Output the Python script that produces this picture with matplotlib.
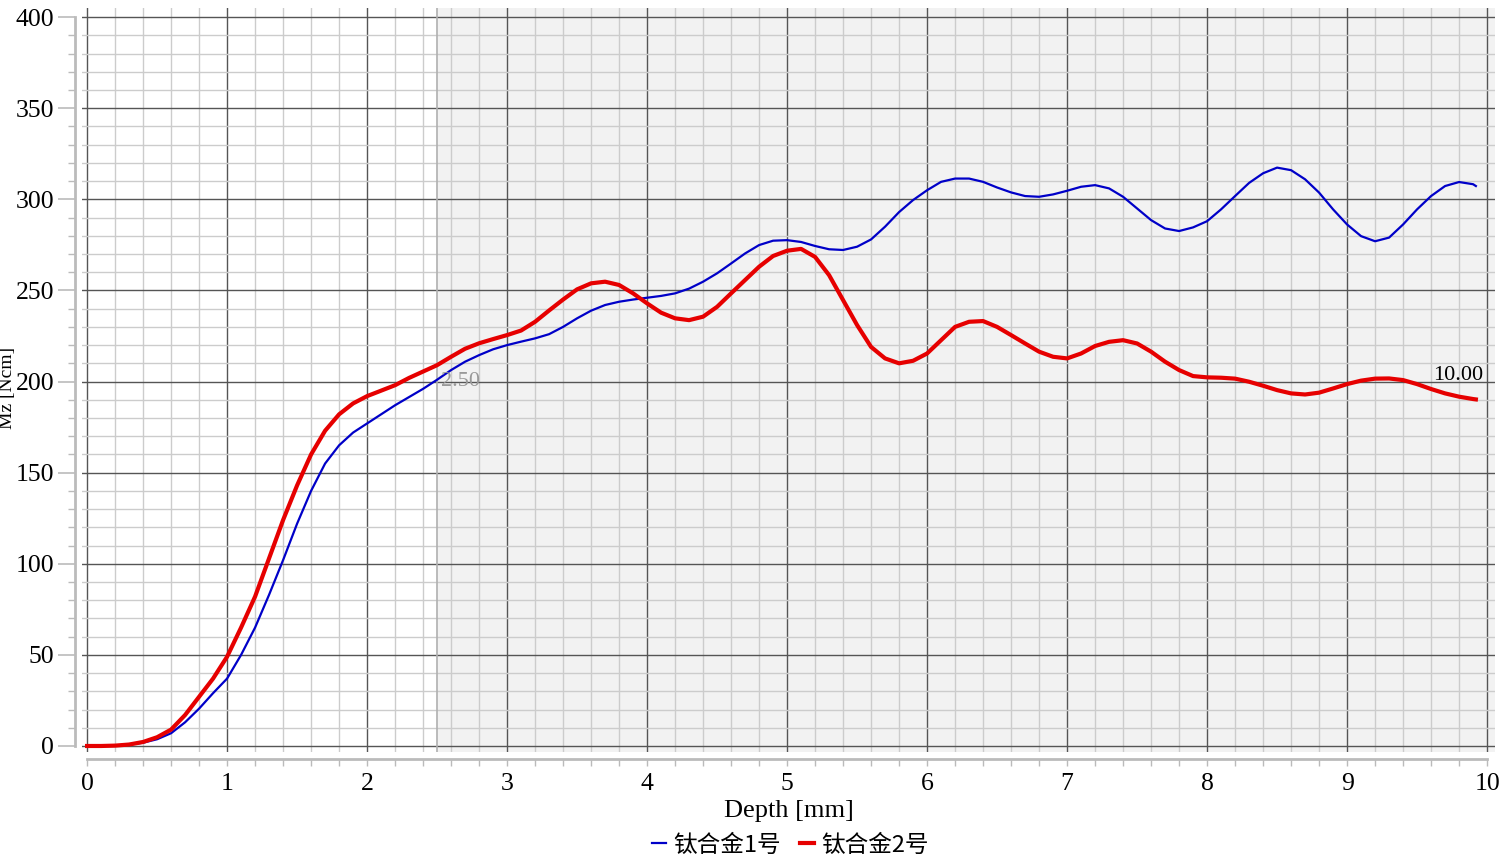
import numpy as np
import matplotlib.pyplot as plt
from matplotlib.ticker import MultipleLocator

# depth [mm] grid the torque values were read at (0.1 mm steps, last point 9.92)
depth = [round(0.1 * i, 1) for i in range(100)] + [9.92]

# Mz [Ncm]
mz_1 = [0, 0, 0.2, 0.7, 1.8, 3.7, 7, 13, 20.5, 29,
        37, 50, 65, 83, 102, 122, 140, 155, 165, 172,
        177, 182, 187, 191.5, 196, 201, 206.3, 210.9, 214.5, 217.7,
        220, 221.9, 223.7, 226, 230, 234.7, 238.9, 242, 243.8, 245,
        246, 247, 248.4, 251, 254.8, 259.4, 264.8, 270.3, 274.9, 277.3,
        277.6, 276.6, 274.4, 272.6, 272.2, 274, 278, 285, 293, 299.6,
        305, 309.6, 311.4, 311.4, 309.6, 306.5, 303.8, 301.8, 301.4, 302.7,
        304.7, 306.9, 307.8, 306, 301.4, 295, 288.6, 284, 282.6, 284.6,
        288, 294.5, 301.8, 309, 314.3, 317.4, 316, 311, 303.7, 294.5,
        286.2, 279.8, 277, 279, 286.2, 294.5, 301.8, 307.3, 309.5, 308.3,
        307.3]
mz_2 = [0, 0, 0.2, 0.8, 2.2, 4.8, 9, 17, 27, 37,
        49, 65, 82, 103, 124, 143, 160, 173, 182, 188,
        192, 195, 198, 202, 205.5, 209, 213.6, 218, 221, 223.3,
        225.5, 228, 232.8, 239, 245, 250.6, 253.9, 254.8, 253, 248.4,
        242.9, 237.8, 234.7, 233.7, 235.6, 241, 248.4, 255.7, 263, 268.9,
        271.8, 272.8, 268.4, 258.4, 244.7, 231, 219, 212.7, 210, 211.4,
        215.4, 222.7, 230, 232.8, 233.2, 230, 225.5, 220.9, 216.4, 213.6,
        212.7, 215.4, 219.5, 221.8, 222.7, 220.9, 216.4, 210.9, 206.3, 203,
        202.3, 202.1, 201.6, 199.9, 197.7, 195.3, 193.5, 192.9, 193.9, 196.2,
        198.6, 200.5, 201.6, 201.7, 200.8, 198.6, 195.9, 193.5, 191.7, 190.4,
        190.2]

names = ['钛合金1号', '钛合金2号']
marker_x = 2.5

plt.rcParams['font.family'] = ['Liberation Serif', 'Noto Sans CJK SC']

fig = plt.figure(figsize=(15, 8.61), dpi=100)
ax = fig.add_axes([0.0547, 0.1266, 0.942, 0.8641])

# shaded region right of the 2.50 marker
ax.axvspan(marker_x, 10.2, color='#f2f2f2', zorder=0)
ax.axvline(marker_x, color='#b0b0b0', lw=1.2, zorder=1)

ax.plot(depth, mz_1, color='#0000c8', lw=1.6, label=names[0], zorder=3,
        solid_joinstyle='round')
ax.plot(depth, mz_2, color='#e60000', lw=3, label=names[1], zorder=4,
        solid_joinstyle='round')

ax.set_xlim(-0.036, 10.057)
ax.set_ylim(-3.3, 405)
ax.xaxis.set_major_locator(MultipleLocator(1))
ax.xaxis.set_minor_locator(MultipleLocator(0.2))
ax.yaxis.set_major_locator(MultipleLocator(50))
ax.yaxis.set_minor_locator(MultipleLocator(10))
ax.grid(which='major', color='#555555', lw=1)
ax.grid(which='minor', color='#cccccc', lw=1)
ax.set_axisbelow(True)

for s in ['top', 'right']:
    ax.spines[s].set_visible(False)
for s in ['left', 'bottom']:
    ax.spines[s].set_position(('outward', 5))
    ax.spines[s].set_color('#bbbbbb')
    ax.spines[s].set_linewidth(2)
ax.spines['left'].set_bounds(0, 400)
ax.spines['bottom'].set_bounds(0, 10)
ax.tick_params(which='both', colors='#bbbbbb', labelcolor='black', labelsize=18.5)
ax.tick_params(axis='y', which='major', length=12, width=1.2, pad=3)
ax.tick_params(axis='y', which='minor', length=5, width=1)
ax.tick_params(axis='x', which='both', length=5, width=1, pad=5)

ax.set_xlabel('Depth [mm]', fontsize=19, labelpad=4)
ax.set_ylabel('Mz [Ncm]', fontsize=14)
ax.yaxis.set_label_coords(-0.047, 0.49)

ax.text(marker_x + 0.03, 200, '2.50', color='#999999', fontsize=16,
        ha='left', va='center', zorder=5)
ax.text(9.97, 198, '10.00', color='black', fontsize=16,
        ha='right', va='bottom', zorder=5)

fig.legend(loc='center', bbox_to_anchor=(0.527, 1 - 845 / 861), ncol=2,
           frameon=False, handlelength=0.6, handletextpad=0.3,
           columnspacing=0.8, prop={'family': ['Noto Sans CJK SC'], 'size': 17})

fig.savefig('out.png', dpi=100)
